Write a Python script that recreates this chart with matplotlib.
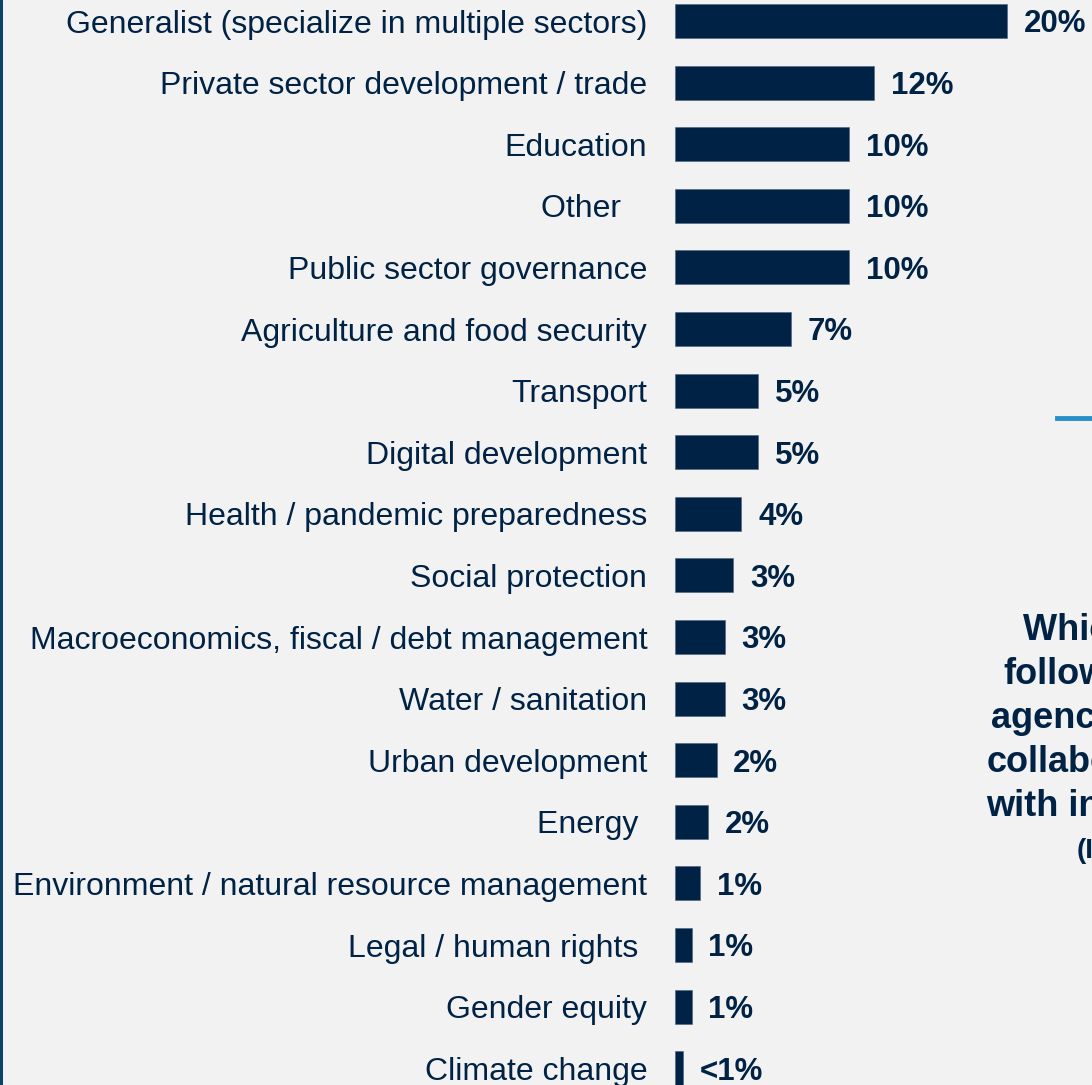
import matplotlib.pyplot as plt
from matplotlib.patches import Rectangle
from matplotlib.lines import Line2D

categories = ['Generalist (specialize in multiple sectors)',
              'Private sector development / trade',
              'Education',
              'Other   ',
              'Public sector governance',
              'Agriculture and food security',
              'Transport',
              'Digital development',
              'Health / pandemic preparedness',
              'Social protection',
              'Macroeconomics, fiscal / debt management',
              'Water / sanitation',
              'Urban development',
              'Energy ',
              'Environment / natural resource management',
              'Legal / human rights ',
              'Gender equity',
              'Climate change']
values = [20, 12, 10.5, 10.5, 10.5, 7, 5, 5, 4, 3.5, 3, 3, 2.5, 2, 1.5, 1, 1, 0.5]
value_labels = ['20%', '12%', '10%', '10%', '10%', '7%', '5%', '5%', '4%', '3%',
                '3%', '3%', '2%', '2%', '1%', '1%', '1%', '<1%']
side_text = ['Which of the', 'following', 'agencies', 'collaborate', 'with international', '(I']

navy = '#002244'
bg = '#f2f2f2'
plt.rcParams['font.family'] = ['Liberation Sans', 'DejaVu Sans']

W, H = 1092, 1085
fig = plt.figure(figsize=(W / 100, H / 100), dpi=100, facecolor=bg)
x0 = 675
px_per_unit = 16.6
row0, step = 21, 61.6
ax = fig.add_axes([x0 / W, 0, 1 - x0 / W, 1])
ax.set_facecolor(bg)
ax.set_xlim(0, (W - x0) / px_per_unit)
ax.set_ylim((H - row0) / step, -row0 / step)

ypos = list(range(len(categories)))
ax.barh(ypos, values, height=0.55, color=navy, edgecolor='#4a6280', linewidth=0.4)
for y, v, lab in zip(ypos, values, value_labels):
    ax.annotate(lab, (v, y), xytext=(12, -2.5), textcoords='offset points',
                va='center', ha='left', fontsize=22.5, fontweight='bold', color=navy)

ax.set_yticks(ypos)
ax.set_yticklabels(categories, fontsize=23, color=navy)
ax.tick_params(axis='y', length=0, pad=20)
ax.set_xticks([])
for s in ax.spines.values():
    s.set_visible(False)

# edge of the slide on the left
fig.add_artist(Rectangle((0, 0), 3 / W, 1, transform=fig.transFigure, color='#0b4466', lw=0))
# accent line on the right
fig.add_artist(Line2D([1057 / W, 1], [1 - 418 / H] * 2, transform=fig.transFigure,
                      color='#2a8fc9', lw=3.5))
# question text on the right, cut by the slide edge as in the source
starts = [1023, 1003, 991, 987, 986, 1077]
for i, (t, sx) in enumerate(zip(side_text, starts)):
    fig.text(sx / W, 1 - (631 + 44 * i) / H, t, ha='left', va='center',
             fontsize=26 if i < 5 else 20, fontweight='bold', color=navy)

fig.savefig('out.png', dpi=100, facecolor=bg)
